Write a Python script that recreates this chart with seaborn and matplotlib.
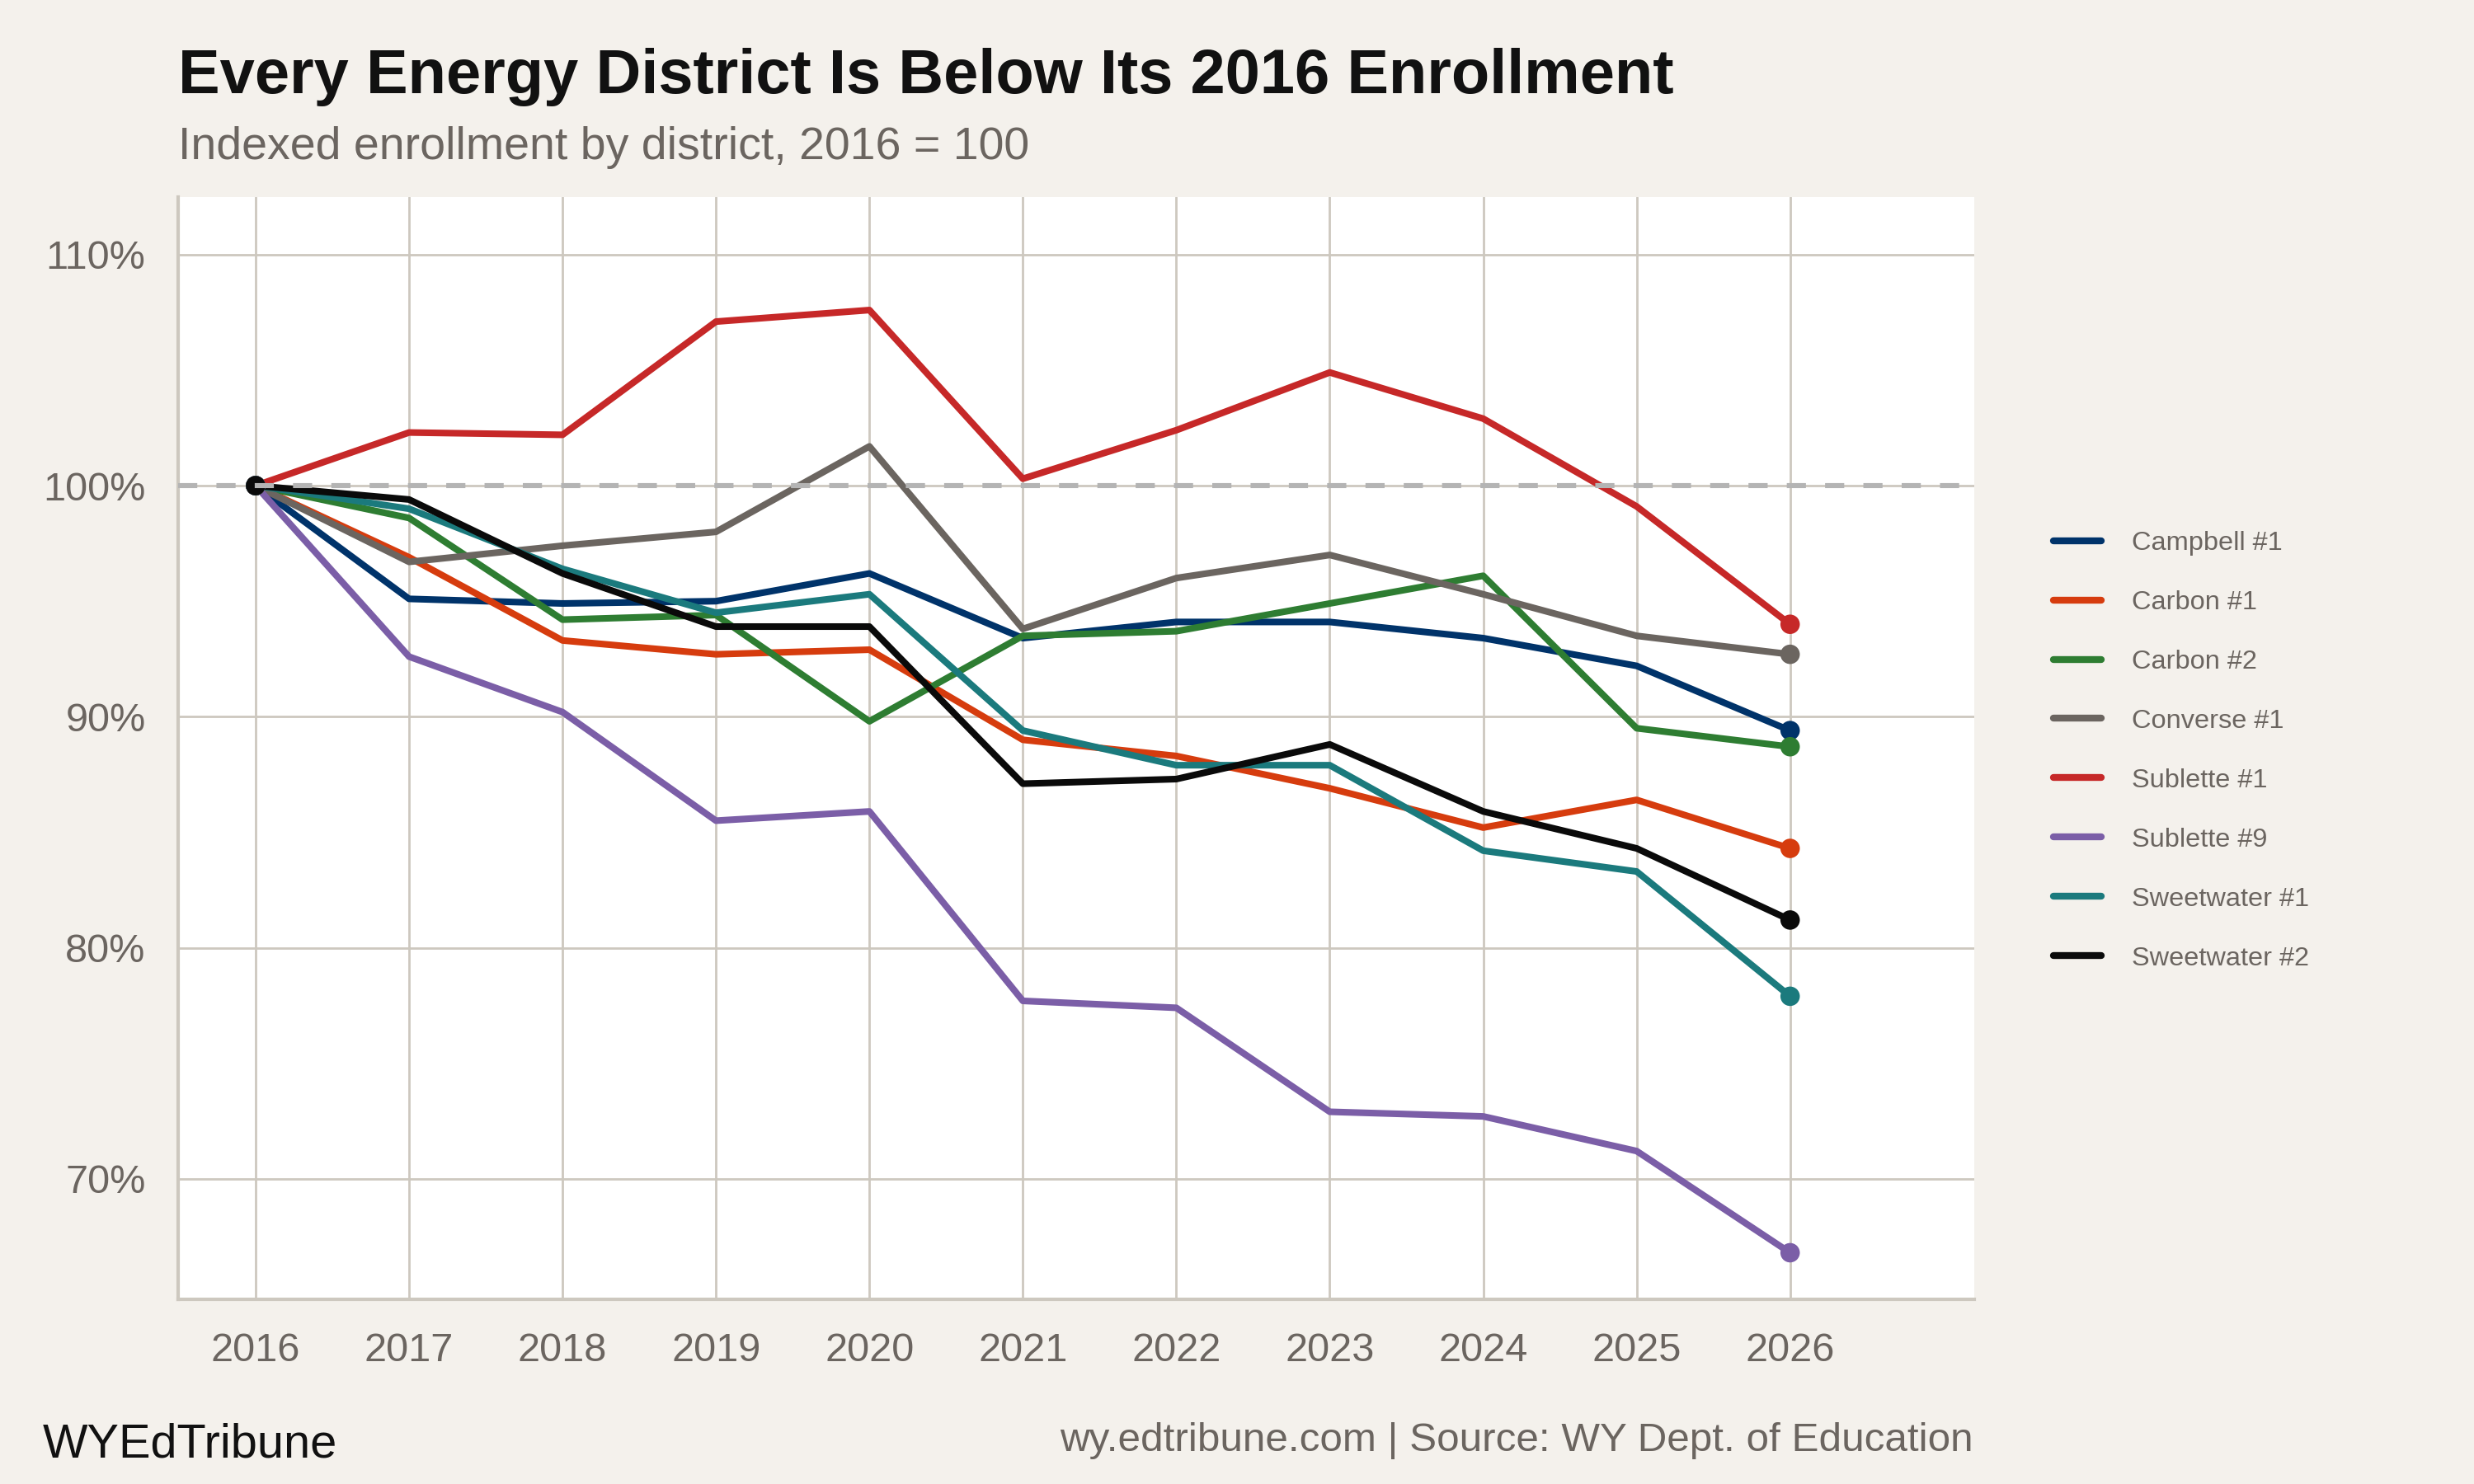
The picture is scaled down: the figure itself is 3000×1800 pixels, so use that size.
import pandas as pd
import matplotlib.pyplot as plt
import seaborn as sns
import numpy as np

OUT_PATH = "out.png"

years = [2016, 2017, 2018, 2019, 2020, 2021, 2022, 2023, 2024, 2025, 2026]

districts = ["Campbell #1", "Carbon #1", "Carbon #2", "Converse #1",
             "Sublette #1", "Sublette #9", "Sweetwater #1", "Sweetwater #2"]

# indexed enrollment, 2016 = 100
campbell_1 = [100, 95.1, 94.9, 95.0, 96.2, 93.4, 94.1, 94.1, 93.4, 92.2, 89.4]
carbon_1 = [100, 96.9, 93.3, 92.7, 92.9, 89.0, 88.3, 86.9, 85.2, 86.4, 84.3]
carbon_2 = [100, 98.6, 94.2, 94.4, 89.8, 93.5, 93.7, 94.9, 96.1, 89.5, 88.7]
converse_1 = [100, 96.7, 97.4, 98.0, 101.7, 93.8, 96.0, 97.0, 95.3, 93.5, 92.7]
sublette_1 = [100, 102.3, 102.2, 107.1, 107.6, 100.3, 102.4, 104.9, 102.9, 99.1, 94.0]
sublette_9 = [100, 92.6, 90.2, 85.5, 85.9, 77.7, 77.4, 72.9, 72.7, 71.2, 66.8]
sweetwater_1 = [100, 99.0, 96.4, 94.5, 95.3, 89.4, 87.9, 87.9, 84.2, 83.3, 77.9]
sweetwater_2 = [100, 99.4, 96.2, 93.9, 93.9, 87.1, 87.3, 88.8, 85.9, 84.3, 81.2]

colors = ["#00336a", "#d63c0e", "#2e7d32", "#6b6560",
          "#c62828", "#7b5ea7", "#1b7a7d", "#0a0a0a"]

BG = "#f4f1ec"
GRID = "#cdc8bf"
TEXT_GRAY = "#6b6560"


def build_df():
    series = [campbell_1, carbon_1, carbon_2, converse_1,
              sublette_1, sublette_9, sweetwater_1, sweetwater_2]
    rows = []
    for name, vals in zip(districts, series):
        for y, v in zip(years, vals):
            rows.append({"year": y, "district": name, "index": v})
    return pd.DataFrame(rows)


def plot_enrollment():
    df = build_df()
    sns.set_theme(style="whitegrid")
    plt.rcParams["font.family"] = ["Liberation Sans", "DejaVu Sans"]

    fig = plt.figure(figsize=(15, 9), dpi=200)
    fig.patch.set_facecolor(BG)
    ax = fig.add_axes([0.072, 0.1244, 0.726, 0.7428])
    ax.set_facecolor("white")

    palette = dict(zip(districts, colors))
    sns.lineplot(data=df, x="year", y="index", hue="district", hue_order=districts,
                 palette=palette, linewidth=2.9, ax=ax, legend=False, zorder=3)
    # dots at the first and last year
    ends = df[df["year"].isin([years[0], years[-1]])]
    sns.scatterplot(data=ends, x="year", y="index", hue="district", hue_order=districts,
                    palette=palette, s=72, linewidth=0, ax=ax, legend=False, zorder=4)

    ax.axhline(100, color="#b4b4b4", linestyle=(0, (3.8, 3.8)), linewidth=2.2, zorder=5)

    ax.set_xlim(2015.495, 2027.2)
    ax.set_ylim(64.78, 112.49)
    ax.set_xticks(years)
    ax.set_xticklabels([str(y) for y in years])
    ax.set_yticks([70, 80, 90, 100, 110])
    ax.set_yticklabels(["70%", "80%", "90%", "100%", "110%"])
    ax.grid(True, color=GRID, linewidth=1.0)
    ax.set_axisbelow(True)
    ax.set_xlabel("")
    ax.set_ylabel("")
    for side in ["top", "right"]:
        ax.spines[side].set_visible(False)
    for side in ["left", "bottom"]:
        ax.spines[side].set_color(GRID)
        ax.spines[side].set_linewidth(1.5)
    ax.tick_params(axis="both", colors=GRID, length=4.7, width=1.0,
                   labelcolor=TEXT_GRAY, labelsize=17.5)
    ax.tick_params(axis="y", pad=9.5)
    ax.tick_params(axis="x", pad=9.5)

    # legend on the right
    handles = [plt.Line2D([0], [0], color=c, linewidth=3) for c in colors]
    leg = fig.legend(handles, districts, loc="center left", bbox_to_anchor=(0.83, 0.494),
                     frameon=False, fontsize=11.7, handlelength=1.78, handletextpad=1.13,
                     labelspacing=1.29, borderpad=0, borderaxespad=0)
    for t in leg.get_texts():
        t.set_color(TEXT_GRAY)

    fig.text(0.072, 0.937, "Every Energy District Is Below Its 2016 Enrollment",
             fontsize=27.3, fontweight="bold", color="#111111", va="baseline")
    fig.text(0.072, 0.893, "Indexed enrollment by district, 2016 = 100",
             fontsize=20, color=TEXT_GRAY, va="baseline")
    fig.text(0.0173, 0.0183, "WYEdTribune", fontsize=20.8, color="#111111", va="baseline")
    fig.text(0.7977, 0.0222, "wy.edtribune.com | Source: WY Dept. of Education",
             fontsize=17.8, color=TEXT_GRAY, va="baseline", ha="right")

    plt.savefig(OUT_PATH, dpi=200, facecolor=BG)


def main():
    plot_enrollment()


if __name__ == "__main__":
    main()
